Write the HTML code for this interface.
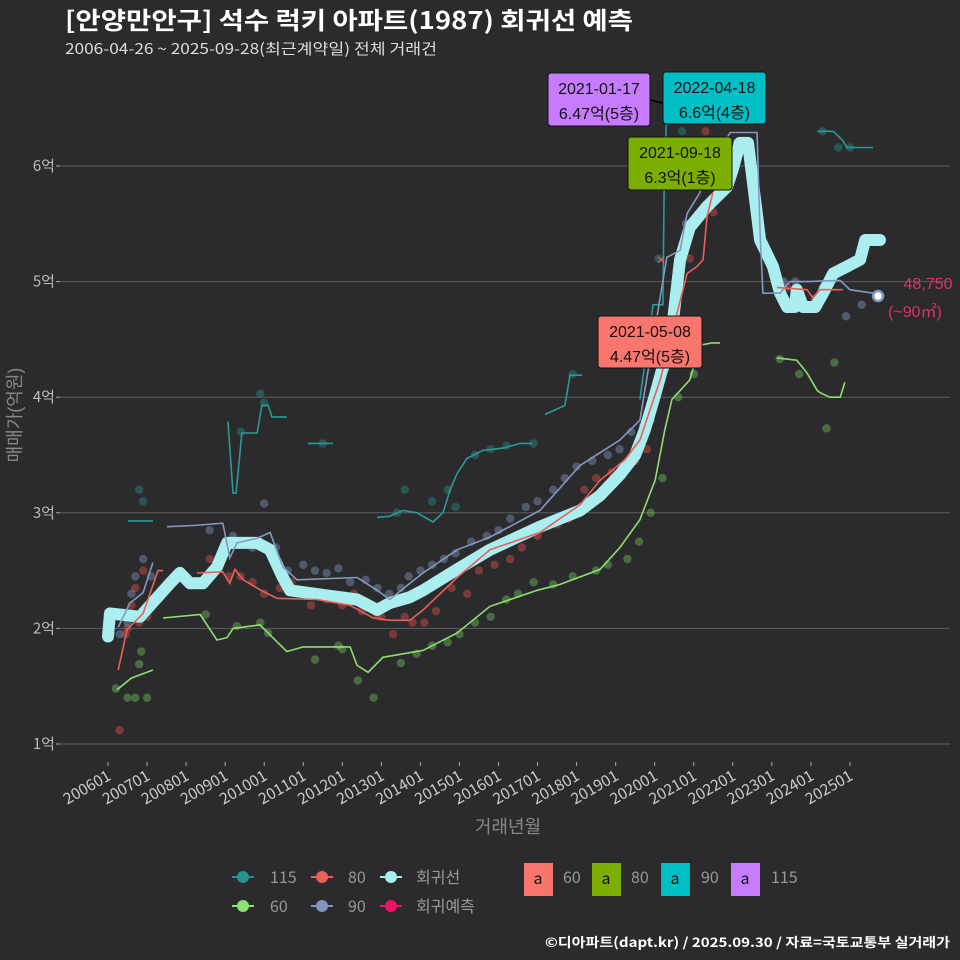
<!DOCTYPE html>
<html><head><meta charset="utf-8">
<style>
html,body{margin:0;padding:0;background:#2b2b2d;}
svg{display:block;font-family:"Liberation Sans","Noto Sans CJK KR",sans-serif;}
</style></head>
<body>
<svg id="chart" width="960" height="960" viewBox="0 0 960 960">
<rect width="960" height="960" fill="#2b2b2d"/>
<text x="65" y="29" fill="#ffffff" font-size="24" font-weight="bold" textLength="568" lengthAdjust="spacingAndGlyphs" font-family="'Noto Sans CJK KR',sans-serif">[안양만안구] 석수 럭키 아파트(1987) 회귀선 예측</text>
<text x="65" y="54" fill="#dddddd" font-size="15" textLength="372" lengthAdjust="spacingAndGlyphs" font-family="'Noto Sans CJK KR',sans-serif">2006-04-26 ~ 2025-09-28(최근계약일) 전체 거래건</text>
<g id="grid"></g>
<g id="yticks"></g>
<g id="xticks"></g>
<text x="0" y="0" transform="translate(21,415) rotate(-90)" text-anchor="middle" fill="#888" font-size="18" font-family="'Liberation Sans','Noto Sans CJK KR',sans-serif">매매가(억원)</text>
<text x="508" y="833" text-anchor="middle" fill="#888" font-size="18" font-family="'Liberation Sans','Noto Sans CJK KR',sans-serif">거래년월</text>
<g id="points"></g>
<g id="lines"></g>
<g id="annot"></g>
<g id="legend" font-size="16" font-family="'Noto Sans CJK KR',sans-serif">
  <g><line x1="232" y1="877" x2="254" y2="877" stroke="#2a9090" stroke-width="2"/><circle cx="243" cy="877" r="6" fill="#2a9090"/><text x="270" y="883" fill="#999">115</text></g>
  <g><line x1="311" y1="877" x2="333" y2="877" stroke="#e8605a" stroke-width="2"/><circle cx="322" cy="877" r="6" fill="#e8605a"/><text x="348" y="883" fill="#999">80</text></g>
  <g><line x1="380" y1="877" x2="402" y2="877" stroke="#aaeef0" stroke-width="2"/><circle cx="391" cy="877" r="6" fill="#aaeef0"/><text x="416" y="883" fill="#999">회귀선</text></g>
  <g><line x1="232" y1="906" x2="254" y2="906" stroke="#8ee070" stroke-width="2"/><circle cx="243" cy="906" r="6" fill="#8ee070"/><text x="270" y="912" fill="#999">60</text></g>
  <g><line x1="311" y1="906" x2="333" y2="906" stroke="#8095bb" stroke-width="2"/><circle cx="322" cy="906" r="6" fill="#8095bb"/><text x="348" y="912" fill="#999">90</text></g>
  <g><line x1="380" y1="906" x2="402" y2="906" stroke="#ee1166" stroke-width="2"/><circle cx="391" cy="906" r="6" fill="#ee1166"/><text x="416" y="912" fill="#999">회귀예측</text></g>
  <g><rect x="524" y="863" width="29" height="33" fill="#f8766d"/><text x="538" y="884" text-anchor="middle" fill="#111">a</text><text x="563" y="883" fill="#999">60</text></g>
  <g><rect x="592" y="863" width="29" height="33" fill="#7cae00"/><text x="606" y="884" text-anchor="middle" fill="#111">a</text><text x="631" y="883" fill="#999">80</text></g>
  <g><rect x="661" y="863" width="29" height="33" fill="#00bfc4"/><text x="675" y="884" text-anchor="middle" fill="#111">a</text><text x="701" y="883" fill="#999">90</text></g>
  <g><rect x="731" y="863" width="29" height="33" fill="#c77cff"/><text x="745" y="884" text-anchor="middle" fill="#111">a</text><text x="771" y="883" fill="#999">115</text></g>
</g>
<text x="545" y="947" fill="#fff" font-size="13" font-weight="bold" textLength="405" lengthAdjust="spacingAndGlyphs" font-family="'Noto Sans CJK KR',sans-serif">©디아파트(dapt.kr) / 2025.09.30 / 자료=국토교통부 실거래가</text>
</svg>
<script>
// ---- data (time in decimal years, price in 억원) ----
const yTicks = [1,2,3,4,5,6];
const yTickLabels = ["1억","2억","3억","4억","5억","6억"];
const xTicks = [2006,2007,2008,2009,2010,2011,2012,2013,2014,2015,2016,2017,2018,2019,2020,2021,2022,2023,2024,2025];
const xTickLabels = ["200601","200701","200801","200901","201001","201101","201201","201301","201401","201501","201601","201701","201801","201901","202001","202101","202201","202301","202401","202501"];

const regT = [2006.0,2006.05,2006.82,2007.59,2007.84,2008.10,2008.43,2008.79,2009.05,2009.82,2010.15,2010.48,2010.66,2011.51,2012.38,2012.89,2013.22,2013.73,2014.07,2014.94,2015.78,2017.06,2018.09,2018.60,2019.11,2019.50,2019.75,2020.01,2020.19,2020.31,2020.47,2020.65,2020.90,2021.34,2021.85,2022.00,2022.18,2022.39,2022.70,2023.03,2023.21,2023.39,2023.59,2023.64,2023.80,2024.11,2024.31,2024.57,2024.92,2025.26,2025.39,2025.77];
const regV = [1.93,2.13,2.10,2.39,2.48,2.39,2.39,2.53,2.74,2.74,2.68,2.44,2.33,2.29,2.25,2.16,2.22,2.27,2.33,2.51,2.68,2.88,3.02,3.15,3.33,3.50,3.72,4.02,4.24,4.32,4.67,5.19,5.47,5.65,5.82,5.97,6.20,6.20,5.36,5.13,4.90,4.78,4.78,4.93,4.78,4.78,4.90,5.07,5.13,5.19,5.36,5.36];

const s60T = [[2006.23,2006.6,2007.15],[2007.41,2008.36,2008.79,2009.05,2009.20,2009.89,2010.58,2011.0,2012.2,2012.38,2012.66,2013.04,2014.07,2014.94,2015.78,2016.99,2017.57,2018.6,2019.11,2019.62,2020.01,2020.26,2020.44,2020.90,2021.16,2021.47,2021.67],[2023.13,2023.64,2023.9,2024.16,2024.23,2024.49,2024.75,2024.87]];
const s60V = [[1.47,1.57,1.64],[2.09,2.12,1.90,1.92,2.00,2.03,1.80,1.84,1.84,1.68,1.62,1.75,1.81,1.96,2.19,2.33,2.38,2.51,2.70,2.94,3.28,3.72,3.98,4.15,4.45,4.47,4.47],[4.34,4.32,4.21,4.06,4.04,4.00,4.00,4.13]];

const s80T = [[2006.26,2006.49,2006.9,2007.28,2007.41],[2008.28,2008.94,2009.12,2009.25,2009.46,2009.97,2010.33,2011.35,2012.2,2012.79,2013.22,2013.73,2014.07,2014.94,2015.78,2017.06,2018.09,2018.60,2019.24,2019.62,2019.88,2020.14,2020.83,2021.08,2021.24,2021.34,2021.49],[2023.13,2023.9,2024.05,2024.23,2024.82]];
const s80V = [[1.64,1.99,2.13,2.50,2.50],[2.48,2.49,2.39,2.51,2.42,2.32,2.26,2.25,2.20,2.09,2.07,2.07,2.16,2.44,2.68,2.83,3.07,3.28,3.46,3.63,3.89,4.15,5.07,5.13,5.19,5.56,5.77],[4.95,4.93,4.86,4.93,4.93]];

const s90T = [[2006.26,2006.56,2006.9,2007.15],[2007.51,2008.18,2008.94,2009.12,2009.3,2009.82,2010.15,2010.48,2010.84,2012.38,2012.89,2013.22,2013.73,2014.07,2014.94,2015.78,2017.06,2018.09,2019.11,2019.62,2020.31,2020.65,2020.83,2021.16,2021.24,2021.93,2022.62,2022.70,2022.77,2023.21,2023.46,2023.9,2024.75,2025.0,2025.59,2025.72]];
const s90V = [[2.01,2.22,2.31,2.57],[2.88,2.89,2.91,2.61,2.74,2.78,2.83,2.53,2.42,2.44,2.33,2.25,2.39,2.48,2.68,2.79,3.02,3.41,3.63,3.80,5.21,5.27,5.59,5.77,5.88,6.29,6.29,5.42,4.90,4.90,5.00,5.00,5.01,4.93,4.90,4.87]];

const s115T = [[2006.51,2007.15],[2009.07,2009.20,2009.28,2009.43,2009.82,2009.94,2010.10,2010.2,2010.58],[2011.12,2011.76],[2012.89,2013.2,2013.55,2013.91,2014.32,2014.58,2014.76,2014.94,2015.19,2015.60,2016.12,2016.55,2016.86],[2017.19,2017.7,2017.83,2018.14],[2019.62,2019.96,2020.21,2020.24,2020.30],[2024.16,2024.57,2024.82,2024.92,2025.59]];
const s115V = [[2.93,2.93],[3.79,3.17,3.17,3.69,3.69,3.93,3.93,3.83,3.83],[3.60,3.60],[2.96,2.97,3.02,3.00,2.92,3.00,3.20,3.34,3.47,3.54,3.56,3.60,3.60],[3.85,3.93,4.19,4.19],[3.98,4.80,4.80,5.77,6.40],[6.30,6.30,6.22,6.16,6.16]];

const p60T = [2006.2,2006.5,2006.7,2006.8,2007.0,2006.85,2008.5,2009.3,2009.9,2010.1,2011.3,2011.9,2012.0,2012.4,2012.8,2013.5,2013.9,2014.3,2014.7,2015.0,2015.4,2015.8,2016.2,2016.5,2016.9,2017.4,2017.9,2018.5,2018.8,2019.3,2019.6,2019.9,2020.2,2020.6,2021.0,2023.2,2023.7,2024.4,2024.6];
const p60V = [1.48,1.40,1.40,1.69,1.40,1.80,2.12,2.02,2.05,1.96,1.73,1.85,1.82,1.55,1.40,1.70,1.78,1.85,1.88,1.95,2.05,2.10,2.25,2.30,2.40,2.38,2.45,2.50,2.55,2.60,2.75,3.00,3.30,4.00,4.20,4.33,4.20,3.73,4.30];
const p80T = [2006.3,2006.45,2006.5,2006.6,2006.7,2006.8,2006.9,2007.0,2008.6,2009.1,2009.4,2009.7,2010.0,2010.4,2010.7,2011.2,2011.6,2012.0,2012.3,2012.5,2012.9,2013.0,2013.3,2013.6,2013.8,2014.1,2014.4,2014.8,2015.2,2015.5,2015.9,2016.3,2016.6,2017.0,2017.5,2017.8,2018.2,2018.5,2018.9,2019.2,2019.5,2019.8,2020.3,2020.6,2020.9,2021.3,2021.5,2023.4,2023.7,2024.1];
const p80V = [1.12,1.95,2.00,2.20,2.35,2.05,2.50,2.10,2.60,2.45,2.45,2.40,2.30,2.35,2.40,2.20,2.25,2.20,2.30,2.15,2.12,2.10,1.95,2.10,2.05,2.05,2.15,2.35,2.30,2.50,2.55,2.60,2.70,2.80,2.90,2.95,3.20,3.30,3.35,3.40,3.45,3.55,4.30,4.60,5.20,6.30,5.60,4.95,4.90,4.85];
const p90T = [2006.3,2006.5,2006.6,2006.7,2006.9,2007.1,2008.6,2009.2,2009.5,2009.7,2010.0,2010.3,2010.6,2011.0,2011.3,2011.6,2011.9,2012.2,2012.6,2012.9,2013.2,2013.5,2013.7,2014.0,2014.3,2014.6,2014.9,2015.3,2015.7,2016.0,2016.3,2016.7,2017.0,2017.4,2017.7,2018.0,2018.4,2018.8,2019.1,2019.4,2019.7,2019.9,2020.2,2020.4,2020.8,2021.2,2022.1,2023.3,2023.6,2024.3,2024.9,2025.3];
const p90V = [1.95,2.05,2.30,2.45,2.60,2.45,2.85,2.80,2.75,2.70,3.08,2.70,2.50,2.55,2.50,2.48,2.52,2.40,2.42,2.35,2.30,2.35,2.45,2.50,2.55,2.60,2.65,2.75,2.80,2.85,2.95,3.05,3.10,3.20,3.30,3.40,3.45,3.50,3.55,3.70,3.75,3.80,4.20,4.50,5.50,5.90,6.20,5.00,5.00,4.95,4.70,4.80];
const p115T = [2006.8,2006.9,2009.4,2009.9,2010.0,2011.5,2013.4,2013.6,2014.3,2014.7,2014.9,2015.4,2015.8,2016.2,2016.9,2017.9,2020.1,2020.7,2024.3,2024.7,2025.0];
const p115V = [3.20,3.10,3.70,4.03,3.95,3.60,3.00,3.20,3.10,3.20,3.05,3.50,3.55,3.58,3.60,4.20,5.20,6.30,6.30,6.16,6.16];

const predT = 2025.72, predV = 4.875;

// ---- scales ----
const X = t => 108 + (t - 2006) * 39.05;
const Y = v => 744 - (v - 1) * 115.6;
const NS = "http://www.w3.org/2000/svg";
function mk(tag, attrs, parent){ const e=document.createElementNS(NS,tag); for(const k in attrs) e.setAttribute(k,attrs[k]); parent.appendChild(e); return e; }

const grid=document.getElementById('grid'), yt=document.getElementById('yticks'), xt=document.getElementById('xticks');
yTicks.forEach((v,i)=>{
  const g=mk('line',{x1:60,x2:950,y1:Y(v),y2:Y(v),stroke:'#5e5e5e','stroke-width':1},grid);
  
  
  const tk=mk('line',{x1:56,x2:60,y1:Y(v),y2:Y(v),stroke:'#aaa'},yt);
  
  
  const t=mk('text',{x:55,y:Y(v)+5,'text-anchor':'end',fill:'#bbb','font-size':15,'font-family':"'Noto Sans CJK KR',sans-serif"},yt);
  t.textContent=yTickLabels[i];
  
  
});
xTicks.forEach((tv,i)=>{
  const x=X(tv);
  const tk=mk('line',{x1:x,x2:x,y1:762,y2:766,stroke:'#aaa'},xt);
  
  
  const t=mk('text',{x:0,y:0,'text-anchor':'end',fill:'#ccc','font-size':15.5,'font-family':"'Noto Sans CJK KR',sans-serif",transform:`translate(${x+4},${779}) rotate(-30)`},xt);
  t.textContent=xTickLabels[i];
  
  
});

const pts=document.getElementById('points');
function scatter(T,V,col,name){
  T.forEach((t,i)=>{
    const c=mk('circle',{cx:X(t),cy:Y(V[i]),r:4.2,fill:col,'fill-opacity':0.45},pts);
    
    
  });
}
scatter(p60T,p60V,'#6fbf5a','point-60');
scatter(p80T,p80V,'#d9504a','point-80');
scatter(p90T,p90V,'#8095bb','point-90');
scatter(p115T,p115V,'#2a8a88','point-115');

const lines=document.getElementById('lines');
function path(T,V){ return T.map((t,i)=>(i?'L':'M')+X(t).toFixed(1)+','+Y(V[i]).toFixed(1)).join(''); }
const r=mk('path',{d:path(regT,regV),fill:'none',stroke:'#aaeef0','stroke-width':12,'stroke-linejoin':'round','stroke-linecap':'round'},lines);


function series(TT,VV,col,name){
  TT.forEach((T,j)=>{
    const p=mk('path',{d:path(T,VV[j]),fill:'none',stroke:col,'stroke-width':1.6},lines);
    
    
  });
}
series(s115T,s115V,'#2a9a98','line-115');
series(s60T,s60V,'#8ee070','line-60');
series(s90T,s90V,'#8599c0','line-90');
series(s80T,s80V,'#e8605a','line-80');

const an=document.getElementById('annot');
const pc=mk('circle',{cx:X(predT),cy:Y(predV),r:5,fill:'#ffffff',stroke:'#8095bb','stroke-width':2.5},an);


const pl=mk('text',{x:928,y:289,'text-anchor':'middle',fill:'#e0306a','font-size':16},an);
pl.textContent='48,750';


const pl2=mk('text',{x:915,y:317,'text-anchor':'middle',fill:'#e0306a','font-size':16},an);
pl2.textContent='(~90㎡)';


const xm=mk('text',{x:661,y:265,'text-anchor':'middle',fill:'#e8605a','font-size':16},an);
xm.textContent='×';


const cl=mk('line',{x1:650,y1:100,x2:695,y2:111,stroke:'#000','stroke-width':1.5},an);


function box(x,y,w,h,col,l1,l2,name){
  const g=mk('g',{},an);
  
  
  mk('rect',{x:x,y:y,width:w,height:h,rx:3,fill:col,stroke:'#111','stroke-width':1},g);
  const a=mk('text',{x:x+w/2,y:y+21,'text-anchor':'middle',fill:'#111','font-size':16},g); a.textContent=l1;
  const b=mk('text',{x:x+w/2,y:y+46,'text-anchor':'middle',fill:'#111','font-size':16},g); b.textContent=l2;
}
box(548,73,102,53,'#c77cff','2021-01-17','6.47억(5층)','label-115-max');
box(663,72,103,52,'#00bfc4','2022-04-18','6.6억(4층)','label-90-max');
box(628,137,104,53,'#7cae00','2021-09-18','6.3억(1층)','label-80-max');
box(598,316,104,52,'#f8766d','2021-05-08','4.47억(5층)','label-60-max');
</script>
</body></html>
